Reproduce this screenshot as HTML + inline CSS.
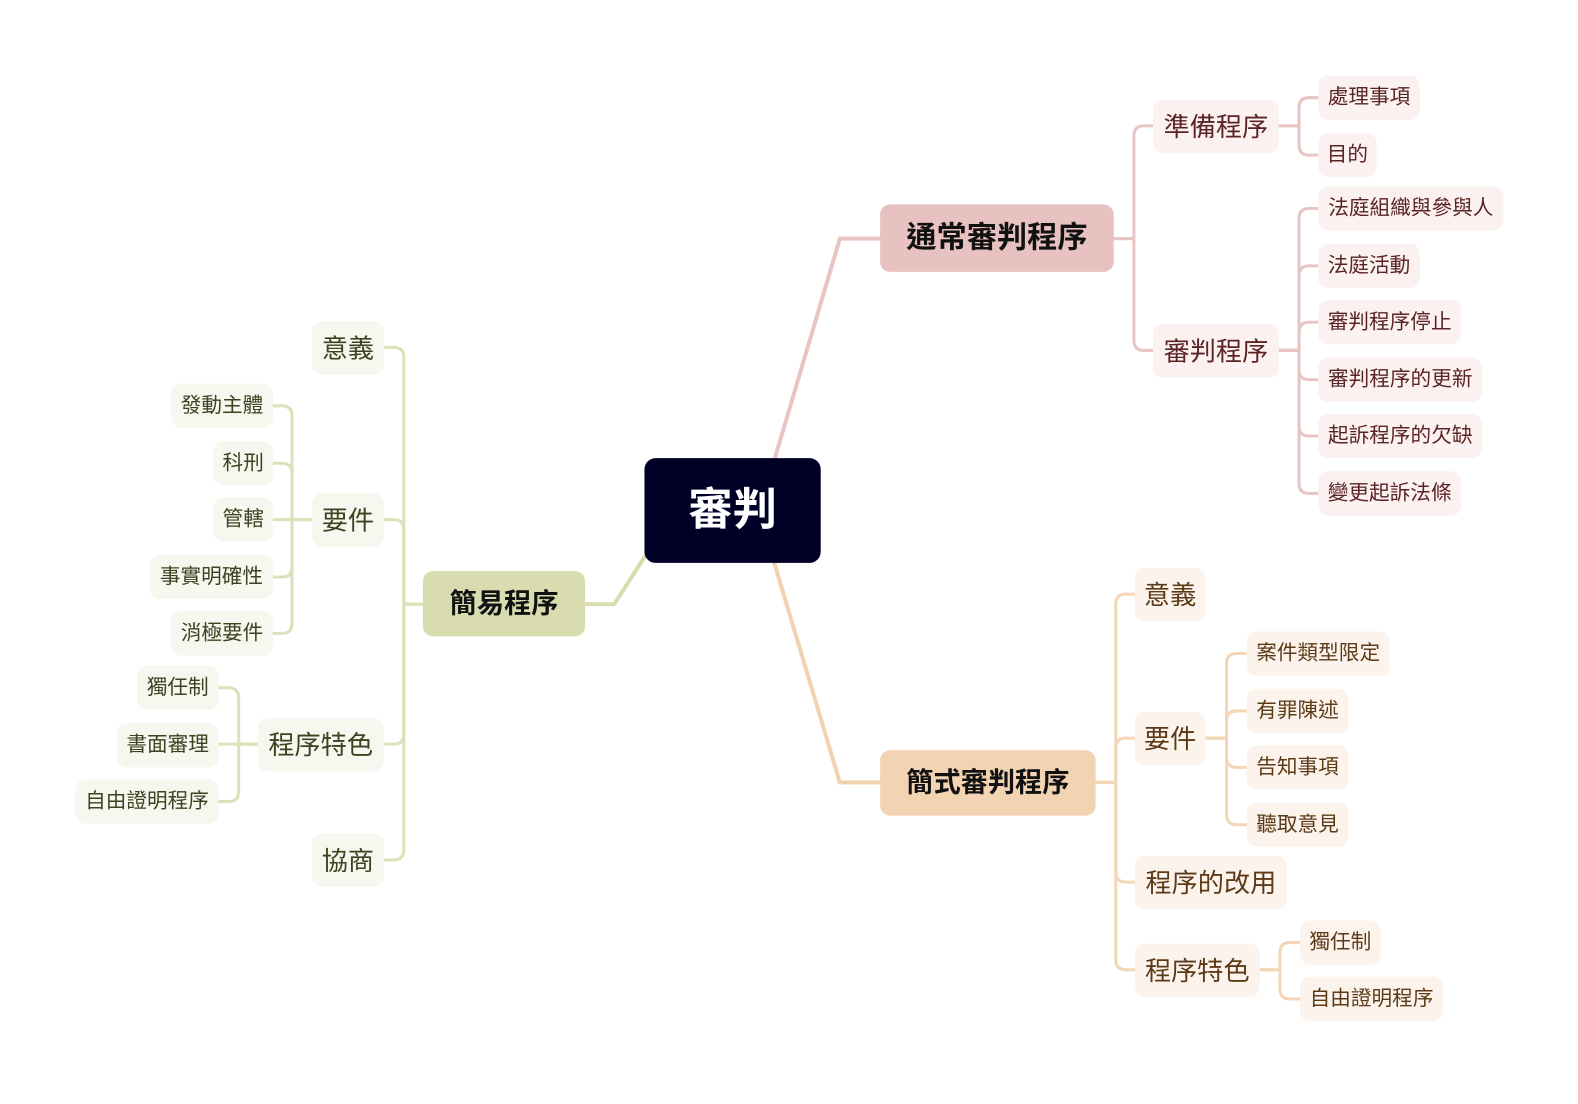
<!DOCTYPE html>
<html><head><meta charset="utf-8"><style>
html,body{margin:0;padding:0;background:#fff;}
body{width:1578px;height:1096px;position:relative;overflow:hidden;font-family:"Liberation Sans","Noto Sans CJK TC",sans-serif;}
#w{position:absolute;left:0;top:0;width:1578px;height:1096px;transform:scale(1.007);transform-origin:0 0;}
svg{position:absolute;left:0;top:0;}
.b{position:absolute;display:flex;align-items:center;justify-content:center;box-sizing:border-box;white-space:nowrap;border-radius:10px;line-height:1;}
.root{background:#000026;color:#fff;font-size:44px;font-weight:bold;border-radius:11px;}
.l1{font-weight:bold;color:#111;}
.pk{background:#e7c2c1;}
.or{background:#f2d4b2;}
.gr{background:#d8dcaf;}
.p2,.p3{background:#fbf1f0;color:#5b2424;}
.o2,.o3{background:#fcf4ec;color:#5c3a17;}
.g2,.g3{background:#f6f7ee;color:#3d4220;}
.p2,.o2,.g2{font-size:26px;height:53px;}
.p3,.o3,.g3{font-size:20.5px;height:44px;}
</style></head><body>
<div id="w">
<svg width="1578" height="1096" viewBox="0 0 1578 1096" fill="none" stroke-linejoin="round" stroke-linecap="round">
<g stroke="#e8c5c4" stroke-width="4"><path d="M768,460 L834,237 L876,237"/></g>
<g stroke="#f2d3b0" stroke-width="4"><path d="M768,556 L834,777 L876,777"/></g>
<g stroke="#d9dcae" stroke-width="4"><path d="M642,550 L610,600 L580,600"/></g>
<g stroke="#e8c5c4" stroke-width="3">
<path d="M1106,237 H1126 V135 Q1126,125 1136,125 H1145"/>
<path d="M1106,237 H1126 V338 Q1126,348 1136,348 H1145"/>
<path d="M1270,125 H1290 V107 Q1290,97 1300,97 H1309"/>
<path d="M1270,125 H1290 V144 Q1290,154 1300,154 H1309"/>
<path d="M1270,348 H1290 V217 Q1290,207 1300,207 H1309"/>
<path d="M1270,348 H1290 V274 Q1290,264 1300,264 H1309"/>
<path d="M1270,348 H1290 V330 Q1290,320 1300,320 H1309"/>
<path d="M1270,348 H1290 V367 Q1290,377 1300,377 H1309"/>
<path d="M1270,348 H1290 V423 Q1290,433 1300,433 H1309"/>
<path d="M1270,348 H1290 V480 Q1290,490 1300,490 H1309"/>
</g>
<g stroke="#f3d6b5" stroke-width="3">
<path d="M1088,777 H1108 V600 Q1108,590 1118,590 H1127"/>
<path d="M1088,777 H1108 V743 Q1108,733 1118,733 H1127"/>
<path d="M1088,777 H1108 V866 Q1108,876 1118,876 H1127"/>
<path d="M1088,777 H1108 V953 Q1108,963 1118,963 H1127"/>
<path d="M1197,733 H1218 V659 Q1218,649 1228,649 H1238"/>
<path d="M1197,733 H1218 V716 Q1218,706 1228,706 H1238"/>
<path d="M1197,733 H1218 V752 Q1218,762 1228,762 H1238"/>
<path d="M1197,733 H1218 V809 Q1218,819 1228,819 H1238"/>
<path d="M1251,963 H1271 V946 Q1271,936 1281,936 H1291"/>
<path d="M1251,963 H1271 V982 Q1271,992 1281,992 H1291"/>
</g>
<g stroke="#dde1b9" stroke-width="3">
<path d="M420,600 H401 V355 Q401,345 391,345 H381"/>
<path d="M420,600 H401 V526 Q401,516 391,516 H381"/>
<path d="M420,600 H401 V729 Q401,739 391,739 H381"/>
<path d="M420,600 H401 V844 Q401,854 391,854 H381"/>
<path d="M310,516 H290 V413 Q290,403 280,403 H271"/>
<path d="M310,516 H290 V470 Q290,460 280,460 H271"/>
<path d="M310,516 H271"/>
<path d="M310,516 H290 V563 Q290,573 280,573 H271"/>
<path d="M310,516 H290 V619 Q290,629 280,629 H271"/>
<path d="M256,739 H237 V693 Q237,683 227,683 H217"/>
<path d="M256,739 H217"/>
<path d="M256,739 H237 V786 Q237,796 227,796 H217"/>
</g>
</svg>

<div class="b root" style="left:640px;top:455px;width:175px;height:104px;">審判</div>

<div class="b l1 pk" style="left:874px;top:203px;width:232px;height:67px;font-size:30px;">通常審判程序</div>
<div class="b l1 or" style="left:874px;top:745px;width:214px;height:65px;font-size:27px;">簡式審判程序</div>
<div class="b l1 gr" style="left:420px;top:567px;width:161px;height:65px;font-size:27px;">簡易程序</div>

<div class="b p2" style="left:1145px;top:99px;width:125px;">準備程序</div>
<div class="b p2" style="left:1145px;top:322px;width:125px;">審判程序</div>
<div class="b p3" style="left:1309px;top:75px;width:101px;">處理事項</div>
<div class="b p3" style="left:1309px;top:132px;width:58px;">目的</div>
<div class="b p3" style="left:1309px;top:185px;width:184px;">法庭組織與參與人</div>
<div class="b p3" style="left:1309px;top:242px;width:101px;">法庭活動</div>
<div class="b p3" style="left:1309px;top:298px;width:142px;">審判程序停止</div>
<div class="b p3" style="left:1309px;top:355px;width:163px;">審判程序的更新</div>
<div class="b p3" style="left:1309px;top:411px;width:163px;">起訴程序的欠缺</div>
<div class="b p3" style="left:1309px;top:468px;width:142px;">變更起訴法條</div>

<div class="b o2" style="left:1127px;top:564px;width:70px;">意義</div>
<div class="b o2" style="left:1127px;top:707px;width:70px;">要件</div>
<div class="b o2" style="left:1127px;top:850px;width:151px;">程序的改用</div>
<div class="b o2" style="left:1127px;top:937px;width:124px;">程序特色</div>
<div class="b o3" style="left:1238px;top:627px;width:142px;">案件類型限定</div>
<div class="b o3" style="left:1238px;top:684px;width:101px;">有罪陳述</div>
<div class="b o3" style="left:1238px;top:740px;width:101px;">告知事項</div>
<div class="b o3" style="left:1238px;top:797px;width:101px;">聽取意見</div>
<div class="b o3" style="left:1291px;top:914px;width:80px;">獨任制</div>
<div class="b o3" style="left:1291px;top:970px;width:142px;">自由證明程序</div>

<div class="b g2" style="left:310px;top:319px;width:71px;">意義</div>
<div class="b g2" style="left:310px;top:490px;width:71px;">要件</div>
<div class="b g2" style="left:256px;top:713px;width:125px;">程序特色</div>
<div class="b g2" style="left:310px;top:828px;width:71px;">協商</div>
<div class="b g3" style="left:170px;top:381px;width:101px;">發動主體</div>
<div class="b g3" style="left:212px;top:438px;width:59px;">科刑</div>
<div class="b g3" style="left:212px;top:494px;width:59px;">管轄</div>
<div class="b g3" style="left:149px;top:551px;width:122px;">事實明確性</div>
<div class="b g3" style="left:170px;top:607px;width:101px;">消極要件</div>
<div class="b g3" style="left:136px;top:661px;width:81px;">獨任制</div>
<div class="b g3" style="left:116px;top:718px;width:101px;">書面審理</div>
<div class="b g3" style="left:75px;top:774px;width:142px;">自由證明程序</div>
</div>
</body></html>
